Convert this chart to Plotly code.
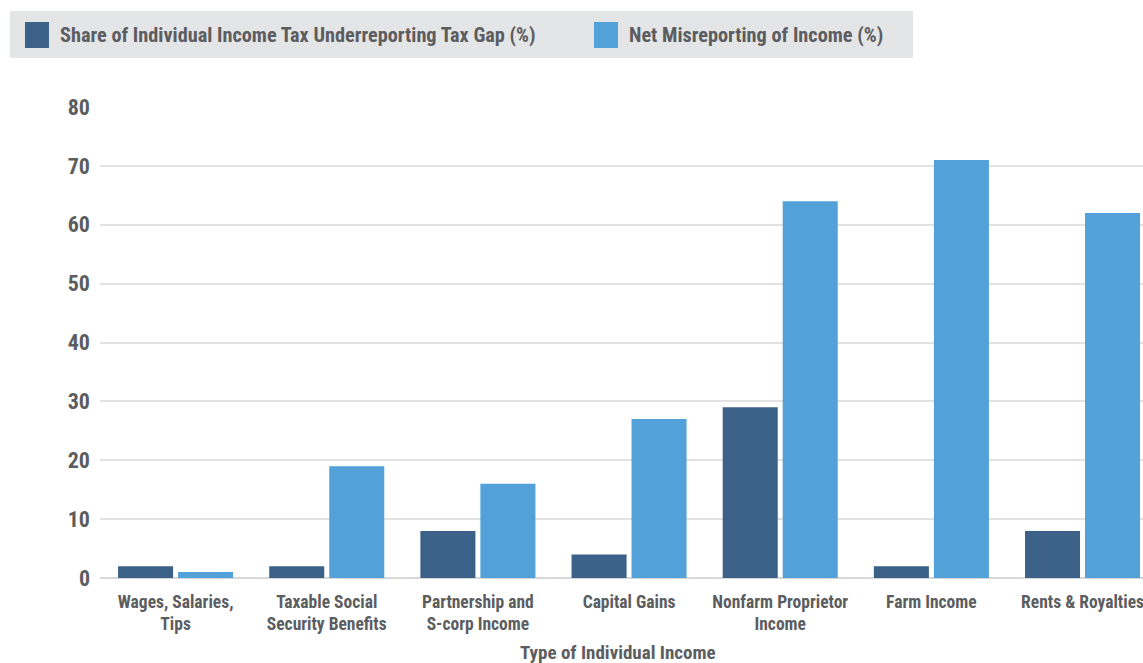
import plotly.graph_objects as go

categories = [
    "Wages, Salaries,<br>Tips",
    "Taxable Social<br>Security Benefits",
    "Partnership and<br>S-corp Income",
    "Capital Gains",
    "Nonfarm Proprietor<br>Income",
    "Farm Income",
    "Rents & Royalties",
]
series_names = [
    "Share of Individual Income Tax Underreporting Tax Gap (%)",
    "Net Misreporting of Income (%)",
]
tax_gap_share = [2, 2, 8, 4, 29, 2, 8]
net_misreporting = [1, 19, 16, 27, 64, 71, 62]
y_ticks = [0, 10, 20, 30, 40, 50, 60, 70, 80]
x_title = "Type of Individual Income"

DARK = "#3c6189"
LIGHT = "#52a1d8"
TEXT = "#5c5d60"
FONT = "Roboto Condensed, Open Sans Condensed, Roboto, sans-serif"

W, H = 1143, 663
ML, MR, MT, MB = 100, 0, 107, 85
PW = W - ML - MR
PH = H - MT - MB

fig = go.Figure()
fig.add_trace(go.Bar(x=list(range(len(categories))), y=tax_gap_share,
                     name=series_names[0], marker_color=DARK, marker_line_width=0))
fig.add_trace(go.Bar(x=list(range(len(categories))), y=net_misreporting,
                     name=series_names[1], marker_color=LIGHT, marker_line_width=0))


def px_x(p):
    return (p - ML) / PW


def px_y(p):
    return (H - MB - p) / PH


def font(size):
    return dict(family=FONT, size=size, color=TEXT, weight="bold")


shapes = [
    # legend panel and swatches
    dict(type="rect", xref="paper", yref="paper",
         x0=px_x(10), x1=px_x(913), y0=px_y(58), y1=px_y(11),
         fillcolor="#e4e5e7", line_width=0, layer="below"),
    dict(type="rect", xref="paper", yref="paper",
         x0=px_x(25), x1=px_x(49), y0=px_y(48), y1=px_y(22),
         fillcolor=DARK, line_width=0),
    dict(type="rect", xref="paper", yref="paper",
         x0=px_x(594), x1=px_x(618), y0=px_y(48), y1=px_y(22),
         fillcolor=LIGHT, line_width=0),
]

annotations = [
    dict(text=series_names[0], xref="paper", yref="paper",
         x=px_x(58), y=px_y(35), xanchor="left", yanchor="middle",
         showarrow=False, font=font(20.3)),
    dict(text=series_names[1], xref="paper", yref="paper",
         x=px_x(627), y=px_y(35), xanchor="left", yanchor="middle",
         showarrow=False, font=font(20.3)),
    dict(text=x_title, xref="paper", yref="paper",
         x=px_x(617.5), y=px_y(652), xanchor="center", yanchor="middle",
         showarrow=False, font=font(19)),
]

fig.update_layout(
    width=W, height=H,
    margin=dict(l=ML, r=MR, t=MT, b=MB, pad=0),
    paper_bgcolor="white", plot_bgcolor="white",
    showlegend=False,
    barmode="group", bargap=0.206, bargroupgap=0.083,
    font=font(18),
    shapes=shapes, annotations=annotations,
    xaxis=dict(
        range=[-0.5, 6.4],
        tickmode="array", tickvals=list(range(len(categories))), ticktext=categories,
        tickfont=font(17.5),
        showgrid=False, zeroline=False, showline=False,
        ticks="", ticklabelstandoff=11, ticklabeloverflow="allow",
    ),
    yaxis=dict(
        range=[0, 80],
        tickmode="array", tickvals=y_ticks,
        tickfont=font(22),
        showgrid=True, gridcolor="#e2e2e2", gridwidth=2,
        zeroline=True, zerolinecolor="#d8d8d8", zerolinewidth=2,
        showline=False, ticks="", ticklabelstandoff=9,
    ),
)

fig.write_html("out.html")
